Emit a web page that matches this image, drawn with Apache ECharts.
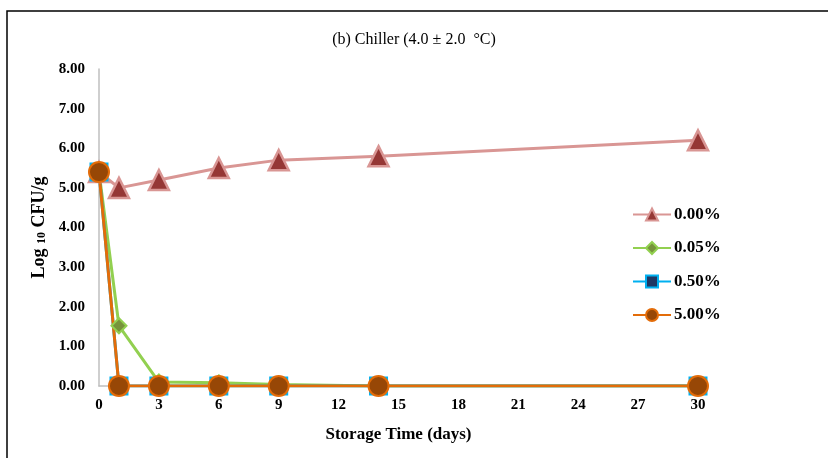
<!DOCTYPE html>
<html lang="en">
<head>
    <meta charset="UTF-8">
    <title>Chiller</title>
    <style>
        html, body { margin: 0; padding: 0; background: #fff; }
    </style>
</head>
<body>
    <div id="main" style="width: 828px; height: 458px;"></div>
</body>
<script src="https://cdn.jsdelivr.net/npm/echarts@6/dist/echarts.min.js"></script>
<script>
    var days = [0, 1, 3, 6, 9, 14, 30];
    var seriesNames = ['0.00%', '0.05%', '0.50%', '5.00%'];
    var conc000 = [5.40, 5.00, 5.20, 5.50, 5.70, 5.80, 6.20];
    var conc005 = [5.40, 1.52, 0.10, 0.08, 0.04, 0.00, 0.00];
    var conc050 = [5.40, 0.00, 0.00, 0.00, 0.00, 0.00, 0.00];
    var conc500 = [5.40, 0.00, 0.00, 0.00, 0.00, 0.00, 0.00];

    function pairs(vals) {
        return days.map(function (d, i) { return [d, vals[i]]; });
    }

    var serif = '"Liberation Serif", "Times New Roman", serif';
    var myChart = echarts.init(document.getElementById('main'));
    var option = {
        backgroundColor: '#fff',
        animation: false,
        title: {
            text: '(b) Chiller (4.0 ± 2.0  °C)',
            left: 'center',
            top: 27,
            textStyle: { fontFamily: serif, fontWeight: 'normal', fontSize: 16, color: '#000' }
        },
        graphic: [{
            type: 'polyline',
            shape: { points: [[7, 470], [7, 11], [840, 11]] },
            style: { stroke: '#000', lineWidth: 1.5, fill: null }
        }],
        legend: {
            orient: 'vertical',
            left: 627,
            top: 201,
            itemWidth: 38,
            itemHeight: 15,
            itemGap: 16.5,
            data: seriesNames,
            textStyle: { fontFamily: serif, fontWeight: 'bold', fontSize: 17, color: '#000', padding: [0, 0, 0, -2] }
        },
        grid: { left: 99, right: 130, top: 69, bottom: 72 },
        xAxis: {
            type: 'value',
            min: 0,
            max: 30,
            interval: 3,
            name: 'Storage Time (days)',
            nameLocation: 'middle',
            nameGap: 40,
            nameTextStyle: { fontFamily: serif, fontWeight: 'bold', fontSize: 17, color: '#000' },
            axisLine: { lineStyle: { color: '#bfbfbf', width: 1.5 } },
            axisTick: { show: false },
            splitLine: { show: false },
            axisLabel: { fontFamily: serif, fontWeight: 'bold', fontSize: 15, color: '#000', margin: 12 }
        },
        yAxis: {
            type: 'value',
            min: 0,
            max: 8,
            interval: 1,
            name: '{a|Log }{b|10}{a| CFU/g}',
            nameLocation: 'middle',
            nameRotate: 90,
            nameGap: 50,
            nameTextStyle: {
                rich: {
                    a: { fontFamily: serif, fontWeight: 'bold', fontSize: 18, color: '#000' },
                    b: { fontFamily: serif, fontWeight: 'bold', fontSize: 12, color: '#000', verticalAlign: 'bottom', padding: [6, 0, 0, 0] }
                }
            },
            axisLine: { show: true, lineStyle: { color: '#bfbfbf', width: 1.5 } },
            axisTick: { show: false },
            splitLine: { show: false },
            axisLabel: {
                fontFamily: serif, fontWeight: 'bold', fontSize: 15, color: '#000', margin: 14,
                formatter: function (v) { return v.toFixed(2); }
            }
        },
        series: [{
            name: seriesNames[0],
            type: 'line',
            data: pairs(conc000),
            symbol: 'triangle',
            symbolSize: 20,
            lineStyle: { color: '#d99694', width: 3 },
            itemStyle: { color: '#953735', borderColor: '#d99694', borderWidth: 2.5 }
        }, {
            name: seriesNames[1],
            type: 'line',
            data: pairs(conc005),
            symbol: 'diamond',
            symbolSize: 15,
            lineStyle: { color: '#92d050', width: 3 },
            itemStyle: { color: '#77933c', borderColor: '#92d050', borderWidth: 2 }
        }, {
            name: seriesNames[2],
            type: 'line',
            data: pairs(conc050),
            symbol: 'rect',
            symbolSize: 17,
            lineStyle: { color: '#00b0f0', width: 3 },
            itemStyle: { color: '#1f3864', borderColor: '#00b0f0', borderWidth: 2 }
        }, {
            name: seriesNames[3],
            type: 'line',
            data: pairs(conc500),
            symbol: 'circle',
            symbolSize: 20,
            lineStyle: { color: '#e36c09', width: 3 },
            itemStyle: { color: '#974706', borderColor: '#e36c09', borderWidth: 2 }
        }]
    };
    myChart.setOption(option);
</script>
</html>
